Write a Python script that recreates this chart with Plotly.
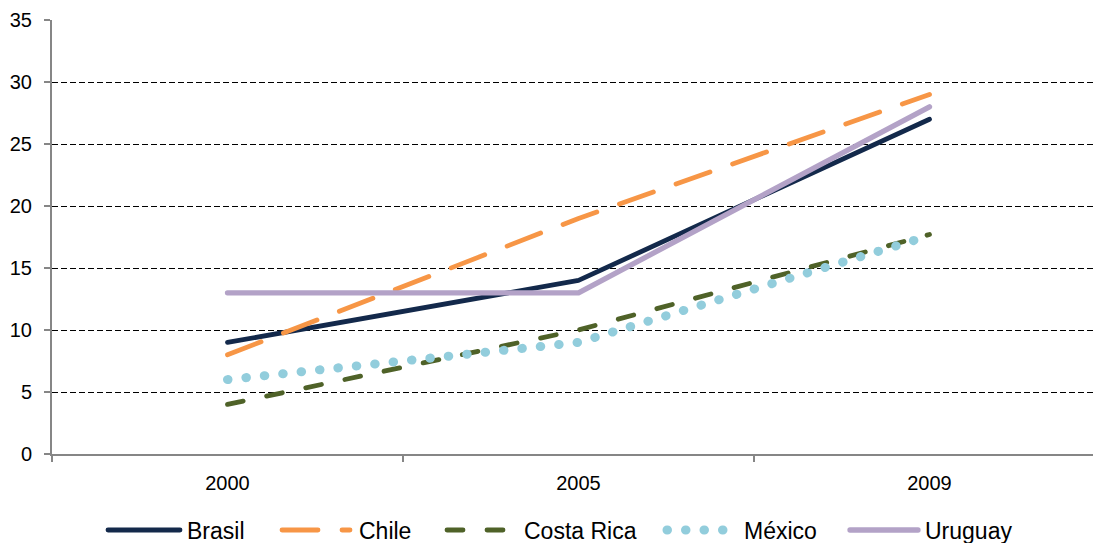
import plotly.graph_objects as go

# Share of population (%) by country and year
years = ["2000", "2005", "2009"]
brasil = [9, 14, 27]
chile = [8, 19, 29]
costa_rica = [4, 10, 17.7]
mexico = [6, 9, 17.6]
uruguay = [13, 13, 28]

y_ticks = [0, 5, 10, 15, 20, 25, 30, 35]

FONT = "Liberation Sans, Arial, sans-serif"
W, H = 1093, 543
M_L, M_R, M_T, M_B = 52, 0, 20, 89
PLOT_W = W - M_L - M_R
PLOT_H = H - M_T - M_B
CAT_STEP = 351  # pixels per category

series = [
    ("Brasil", brasil, dict(color="#13294B", width=4.8, dash="solid")),
    ("Chile", chile, dict(color="#F79646", width=4.8, dash="36px,24px")),
    ("Costa Rica", costa_rica, dict(color="#4F6228", width=4.8, dash="16px,24px")),
    ("México", mexico, dict(color="#92CDDC", width=9, dash="0.5px,18px")),
    ("Uruguay", uruguay, dict(color="#B3A2C7", width=5.3, dash="solid")),
]

fig = go.Figure()
for name, vals, line in series:
    fig.add_trace(go.Scatter(x=years, y=vals, name=name, mode="lines",
                             line=line, showlegend=False))


def px_x(px):
    return (px - M_L) / PLOT_W


def px_y(py):
    return (H - M_B - py) / PLOT_H


# Legend row below the plot: sample line + label for each series
legend_pos = [(108, 180, 185), (282, 350, 357), (447, 509, 522),
              (667, 727, 742), (850, 918, 923)]
legend_y = 530
shapes = []
annotations = []
for (name, _, line), (x0, x1, tx) in zip(series, legend_pos):
    shapes.append(dict(type="line", xref="paper", yref="paper",
                       x0=px_x(x0), x1=px_x(x1), y0=px_y(legend_y), y1=px_y(legend_y),
                       line=line))
    annotations.append(dict(text=name, xref="paper", yref="paper",
                            x=px_x(tx), y=px_y(legend_y + 1), xanchor="left",
                            yanchor="middle", showarrow=False,
                            font=dict(family=FONT, size=23, color="#000000")))

fig.update_layout(
    width=W, height=H,
    margin=dict(l=M_L, r=M_R, t=M_T, b=M_B, pad=0),
    paper_bgcolor="white", plot_bgcolor="white",
    font=dict(family=FONT, size=20, color="#000000"),
    showlegend=False,
    shapes=shapes,
    annotations=annotations,
    xaxis=dict(
        type="category",
        range=[-0.5, -0.5 + PLOT_W / CAT_STEP],
        showgrid=False, zeroline=False,
        showline=True, linecolor="#868686", linewidth=2,
        ticks="outside", tickson="boundaries", ticklen=6,
        tickcolor="#868686", tickwidth=2,
        ticklabelstandoff=10,
    ),
    yaxis=dict(
        range=[0, 35], tickvals=y_ticks,
        showgrid=True, gridcolor="#000000", gridwidth=1, griddash="6px,3px",
        zeroline=False,
        showline=True, linecolor="#868686", linewidth=2,
        ticks="outside", ticklen=6, tickcolor="#868686", tickwidth=2,
        ticklabelstandoff=8,
    ),
)

round_caps = """
var gd = document.getElementById('{plot_id}');
function roundCaps() {
  gd.querySelectorAll('.scatterlayer path.js-line, .shapelayer path').forEach(function (p) {
    p.style.strokeLinecap = 'round';
    p.style.strokeLinejoin = 'round';
  });
}
roundCaps();
gd.on('plotly_afterplot', roundCaps);
"""

fig.write_html("out.html", post_script=round_caps, config={"displayModeBar": False})
